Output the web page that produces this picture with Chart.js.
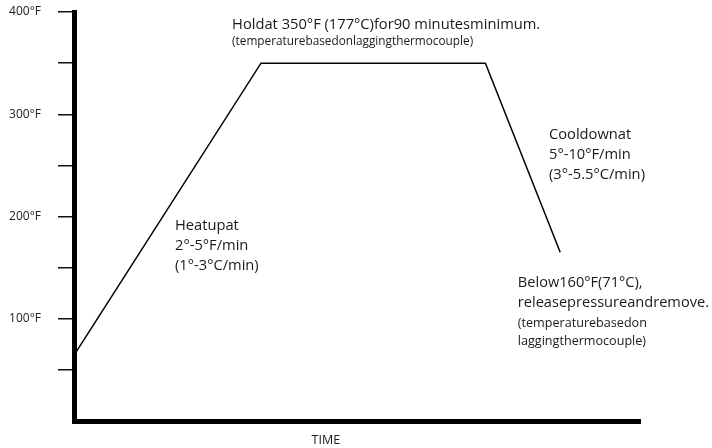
<!DOCTYPE html>
<html>
<head>
<meta charset="utf-8">
<title>Cure cycle</title>
<script src="https://cdn.jsdelivr.net/npm/chart.js"></script>
<style>
  html, body { margin: 0; padding: 0; background: #fff; }
  #wrap { width: 712px; height: 448px; }
</style>
</head>
<body>
<div id="wrap"><canvas id="cureChart" width="712" height="448"></canvas></div>
<script>
// cycle profile: time in minutes from start, temperature in °F
const timeMin = [1, 75, 165, 195];
const tempF = [68, 350, 350, 165];

// y axis ticks (minor ticks carry no label)
const yTickValues = [50, 100, 150, 200, 250, 300, 350, 400];
const yTickLabels = ['', '100°F', '', '200°F', '', '300°F', '', '400°F'];

const xTitle = 'TIME';

// callout texts
const holdLines = ['Holdat 350°F (177°C)for90 minutesminimum.', '(temperaturebasedonlaggingthermocouple)'];
const heatLines = ['Heatupat', '2°-5°F/min', '(1°-3°C/min)'];
const coolLines = ['Cooldownat', '5°-10°F/min', '(3°-5.5°C/min)'];
const belowLines = ['Below160°F(71°C),', 'releasepressureandremove.', '(temperaturebasedon', 'laggingthermocouple)'];

const FONT = '"Open Sans", "Noto Sans", sans-serif';

// where each callout sits: anchor in data units (minutes, °F), then line sizes and offsets in px
const callouts = [
  { lines: holdLines, t: 63.4, v: 383, sizes: [14.7, 11.8], dy: [0, 15.5] },
  { lines: heatLines, t: 40.5, v: 187, sizes: [14.7, 14.7, 14.7], dy: [0, 20, 40] },
  { lines: coolLines, t: 190.5, v: 275.5, sizes: [14.7, 14.7, 14.7], dy: [0, 20, 40] },
  { lines: belowLines, t: 178, v: 131, sizes: [14.6, 14.6, 12.6, 12.6], dy: [0, 20, 39.5, 58] }
];

const calloutPlugin = {
  id: 'callouts',
  afterDraw(chart) {
    const { ctx, scales: { x, y } } = chart;
    ctx.save();
    ctx.fillStyle = '#1a1a1a';
    ctx.textBaseline = 'alphabetic';
    ctx.textAlign = 'left';
    callouts.forEach(c => {
      const px = x.getPixelForValue(c.t);
      const py = y.getPixelForValue(c.v);
      c.lines.forEach((txt, i) => {
        ctx.font = c.sizes[i] + 'px ' + FONT;
        ctx.fillText(txt, px, py + c.dy[i]);
      });
    });
    // axis title, sits left of centre in the original
    ctx.textAlign = 'center';
    ctx.font = '12.5px ' + FONT;
    ctx.fillText(xTitle, x.getPixelForValue(101), chart.chartArea.bottom + 23);
    ctx.restore();
  }
};

new Chart(document.getElementById('cureChart').getContext('2d'), {
  type: 'line',
  data: {
    datasets: [{
      data: timeMin.map((t, i) => ({ x: t, y: tempF[i] })),
      borderColor: '#000',
      borderWidth: 1.5,
      pointRadius: 0,
      tension: 0,
      fill: false
    }]
  },
  options: {
    responsive: false,
    animation: false,
    layout: { padding: { top: 12, right: 72, left: 0, bottom: 0 } },
    plugins: { legend: { display: false }, tooltip: { enabled: false } },
    scales: {
      x: {
        type: 'linear',
        min: 0,
        max: 227,
        ticks: { display: false },
        grid: { display: false, drawTicks: false },
        border: { display: true, color: '#000', width: 5 },
        afterFit: s => { s.height = 27; s.paddingLeft = 0; s.paddingRight = 0; }
      },
      y: {
        min: 0,
        max: 400,
        afterBuildTicks: s => { s.ticks = yTickValues.map(v => ({ value: v })); },
        ticks: {
          padding: 17,
          color: '#222',
          font: { family: FONT, size: 12 },
          callback: v => yTickLabels[yTickValues.indexOf(v)] || ''
        },
        grid: { drawOnChartArea: false, drawTicks: true, tickLength: 16, color: '#111', lineWidth: 1.5 },
        border: { color: '#000', width: 5 },
        afterFit: s => { s.width = 74; s.paddingTop = 0; s.paddingBottom = 0; }
      }
    }
  },
  plugins: [calloutPlugin]
});
</script>
</body>
</html>
